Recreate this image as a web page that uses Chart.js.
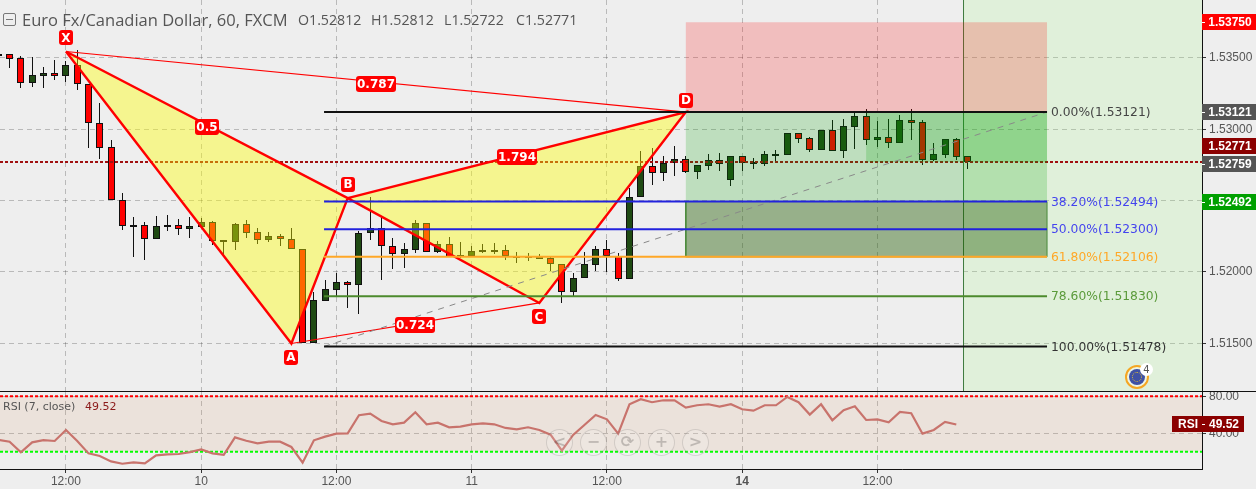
<!DOCTYPE html>
<html>
<head>
<meta charset="utf-8">
<title>EUR/CAD 60</title>
<script src="https://cdn.jsdelivr.net/npm/chart.js@4/dist/chart.umd.min.js"></script>
<style>
  html, body { margin: 0; padding: 0; background: #eeeeee; overflow: hidden; }
  #page { position: relative; width: 1256px; height: 489px; overflow: hidden; }
  #mainWrap { position: absolute; left: 0; top: 0; width: 1256px; height: 391px; border-bottom: 1px solid #111; }
  #rsiWrap { position: absolute; left: 0; top: 392px; width: 1256px; height: 97px; }
  canvas { display: block; }
  .legend { position: absolute; white-space: nowrap; }
  #title { left: 22px; top: 8px; font: 16.5px "Open Sans", sans-serif; color: #555; }
  #ohlc span { position: absolute; top: 10px; font: 14.2px "Open Sans", sans-serif; color: #555; }
  #collapse { position: absolute; left: 3px; top: 13px; width: 11px; height: 11px; border: 1px solid #777; border-radius: 2px; }
  #collapse i { position: absolute; left: 2px; right: 2px; top: 5px; height: 1px; background: #777; }
  #rsiTitle { left: 3px; top: 400px; font: 11px "DejaVu Sans", sans-serif; color: #555; }
  #rsiValue { left: 85px; top: 400px; font: 11px "DejaVu Sans", sans-serif; color: #8b1a1a; }
  .nav { position: absolute; top: 429px; width: 25px; height: 25px; line-height: 25px; text-align: center; border: 1.5px solid rgba(0,0,0,.12);
         border-radius: 50%; background: rgba(255,255,255,.14); color: rgba(0,0,0,.2); font: bold 16px/24px "DejaVu Sans", sans-serif; }
  #flag { position: absolute; left: 1125px; top: 365px; width: 20px; height: 20px; border: 2px solid #f5a623; border-radius: 50%; background: #eef5e4; }
  #flag b { position: absolute; left: 2px; top: 2px; width: 16px; height: 16px; border-radius: 50%; background: #3f51a5; }
  #flag u { position: absolute; left: 5px; top: 5px; width: 8px; height: 8px; border: 1px dotted #d9b93a; border-radius: 50%; }
  #flagCount { position: absolute; left: 1140px; top: 363px; width: 13px; height: 13px; border-radius: 50%; background: #fff; color: #555; text-align: center; font: 10px/13px "DejaVu Sans", sans-serif; }
</style>
</head>
<body>
<div id="page">
  <div id="mainWrap"><canvas id="mainChart" width="1256" height="391"></canvas></div>
  <div id="rsiWrap"><canvas id="rsiChart" width="1256" height="97"></canvas></div>
  <div id="collapse"><i></i></div>
  <div id="title" class="legend">Euro Fx/Canadian Dollar, 60, FXCM</div>
  <div id="ohlc"></div>
  <div id="rsiTitle" class="legend">RSI (7, close)</div>
  <div id="rsiValue" class="legend">49.52</div>
  <div id="flag"><b></b><u></u></div>
  <div id="flagCount">4</div>
</div>
<script>
// first entry is the bar cut off by the left edge, so it sits at index -1
const firstBar = -1;
const opens = [1.53525,1.53528,1.53497,1.53322,1.53376,1.53394,1.53376,1.53448,1.53315,1.53042,1.52874,1.52502,1.52327,1.52327,1.52233,1.52317,1.52327,1.52303,1.52317,1.52348,1.52212,1.52212,1.52334,1.52278,1.52226,1.52250,1.52233,1.52163,1.51504,1.51799,1.51876,1.51928,1.51911,1.52271,1.52306,1.52180,1.52124,1.52157,1.52341,1.52142,1.52194,1.52107,1.52112,1.52140,1.52149,1.52152,1.52110,1.52107,1.52091,1.52100,1.52054,1.51862,1.51956,1.52051,1.52159,1.52114,1.51953,1.52523,1.52743,1.52692,1.52762,1.52790,1.52701,1.52745,1.52785,1.52645,1.52813,1.52759,1.52757,1.52827,1.52820,1.52974,1.52939,1.52855,1.52995,1.52848,1.53018,1.53093,1.52925,1.52946,1.52904,1.53065,1.53049,1.52787,1.52822,1.52930,1.52812];
const highs = [1.53530,1.53528,1.53514,1.53509,1.53439,1.53486,1.53481,1.53556,1.53315,1.53182,1.52925,1.52551,1.52383,1.52348,1.52392,1.52399,1.52371,1.52383,1.52376,1.52357,1.52224,1.52341,1.52364,1.52308,1.52278,1.52266,1.52308,1.52163,1.51858,1.51944,1.51991,1.51937,1.52289,1.52523,1.52387,1.52236,1.52201,1.52364,1.52341,1.52217,1.52247,1.52208,1.52182,1.52194,1.52201,1.52189,1.52138,1.52131,1.52126,1.52112,1.52054,1.51995,1.52138,1.52182,1.52224,1.52135,1.52586,1.52848,1.52867,1.52813,1.52883,1.52813,1.52748,1.52827,1.52834,1.52813,1.52813,1.52797,1.52848,1.52855,1.52974,1.52974,1.52948,1.52995,1.53065,1.53072,1.53114,1.53142,1.53058,1.53072,1.53100,1.53142,1.53065,1.52904,1.52932,1.52939,1.52812];
const lows = [1.53520,1.53432,1.53291,1.53298,1.53291,1.53345,1.53333,1.53277,1.52871,1.52794,1.52502,1.52294,1.52107,1.52084,1.52233,1.52287,1.52259,1.52240,1.52317,1.52189,1.52119,1.52154,1.52240,1.52198,1.52212,1.52184,1.52163,1.51500,1.51504,1.51799,1.51832,1.51750,1.51705,1.52224,1.51944,1.52021,1.52030,1.52135,1.52142,1.52131,1.52107,1.52098,1.52112,1.52131,1.52126,1.52084,1.52065,1.52079,1.52089,1.52007,1.51785,1.51834,1.51956,1.52007,1.52002,1.51939,1.51949,1.52523,1.52610,1.52640,1.52675,1.52692,1.52652,1.52715,1.52708,1.52603,1.52708,1.52722,1.52743,1.52776,1.52820,1.52904,1.52841,1.52855,1.52848,1.52799,1.52862,1.52890,1.52876,1.52869,1.52904,1.52925,1.52750,1.52778,1.52799,1.52785,1.52722];
const closes = [1.53528,1.53495,1.53322,1.53378,1.53394,1.53376,1.53448,1.53315,1.53042,1.52871,1.52502,1.52324,1.52329,1.52233,1.52320,1.52329,1.52303,1.52320,1.52348,1.52219,1.52224,1.52334,1.52275,1.52226,1.52250,1.52233,1.52163,1.51504,1.51801,1.51879,1.51930,1.51911,1.52271,1.52306,1.52180,1.52124,1.52159,1.52341,1.52142,1.52194,1.52107,1.52117,1.52145,1.52152,1.52151,1.52110,1.52111,1.52112,1.52112,1.52054,1.51862,1.51956,1.52054,1.52159,1.52114,1.51953,1.52523,1.52743,1.52692,1.52766,1.52790,1.52703,1.52748,1.52785,1.52759,1.52813,1.52766,1.52769,1.52827,1.52829,1.52974,1.52934,1.52855,1.52995,1.52848,1.53023,1.53093,1.52925,1.52946,1.52906,1.53065,1.53046,1.52787,1.52827,1.52932,1.52808,1.52771];
const rsiValues = [33.0,30.9,19.4,30.2,32.7,31.7,43.6,31.7,18.3,15.4,9.6,7.1,8.5,7.5,16.1,17.2,17.6,19.7,22.6,18.3,16.8,35.6,32.0,29.1,30.9,30.9,25.2,8.2,32.4,36.4,39.6,40.0,59.5,61.3,53.3,49.7,51.5,62.7,49.7,51.5,46.5,47.2,49.7,50.8,49.7,45.8,44.3,46.5,43.6,38.5,21.2,38.2,49.0,59.8,55.1,39.6,71.4,76.8,73.6,75.7,75.7,67.8,70.3,71.4,68.9,71.4,66.0,64.5,70.3,70.3,79.3,73.6,60.2,71.4,54.1,64.9,69.2,54.4,55.1,51.9,63.1,61.7,39.6,43.6,52.3,49.52];

const xTicks = [5,17,29,41,53,65,77];
const xTickLabels = ['12:00','10','12:00','11','12:00','14','12:00'];
const priceTicks = [1.535,1.53,1.525,1.52,1.515];
const rsiTicks = [80,40];

// harmonic pattern points, bar index + price
const patternNames = ['X','A','B','C','D'];
const patternBars = [5,25,30,47,60];
const patternPrices = [1.53545,1.51499,1.52518,1.51783,1.53121];

// fib retracement tool
const fibLabels = ['0.00%(1.53121)','38.20%(1.52494)','50.00%(1.52300)','61.80%(1.52106)','78.60%(1.51830)','100.00%(1.51478)'];
const fibPrices = [1.53121,1.52494,1.52300,1.52106,1.51830,1.51478];
const fibColors = ['#111111','#2222dd','#2222dd','#ffa726','#4c8a2c','#111111'];
const fibTextColors = ['#444444','#4444ee','#4444ee','#ffa726','#5a9a3a','#333333'];
const fibBars = [27.9,92.05];

const stopPrice = 1.5375;
const lastPrice = 1.52771;
const sessionBar = 84.64;
const profitBar = 76;

// price tags on the right axis, 1.52771 is pushed up out of the way of 1.52759
const tagPrices = [1.5375,1.53121,1.52771,1.52759,1.52492];
const tagColors = ['#ff0000','#555555','#8b0000','#555555','#00a000'];
const tagNudge = [0,0,-16,0,0];

const ohlcLabels = ['O1.52812','H1.52812','L1.52722','C1.52771'];
const ohlcLeft = [298,371,444,516];
const navGlyphs = ['<','−','⟳','+','>'];
const navLeft = [546,580,614,648,682];

const xMin = -0.852, xMax = 105.8;
const yMin = 1.51166, yMax = 1.539061;
const rsiMin = 1.4, rsiMax = 84.65;
const AXIS_W = 54;
const GREEN = '#1f4a13', RED = '#ff0000', EDGE = '#111111';
const GRID = 'rgba(0,0,0,0.22)';

ohlcLabels.forEach((t, i) => {
  const s = document.createElement('span');
  s.textContent = t;
  s.style.left = ohlcLeft[i] + 'px';
  document.getElementById('ohlc').appendChild(s);
});
navGlyphs.forEach((t, i) => {
  const d = document.createElement('div');
  d.className = 'nav';
  d.textContent = t;
  d.style.left = navLeft[i] + 'px';
  document.getElementById('page').appendChild(d);
});

const pt = (i) => ({ x: patternBars[i], y: patternPrices[i] });
const rect = (x1, x2, y1, y2) => [{x:x1,y:y1},{x:x2,y:y1},{x:x2,y:y2},{x:x1,y:y2},{x:x1,y:y1}];

function shape(data, color, border, width) {
  return { type: 'line', data, fill: 'shape', backgroundColor: color, borderColor: border || 'transparent', borderWidth: width || 1, pointRadius: 0, tension: 0 };
}
function line(data, color, width, dash) {
  return { type: 'line', data, fill: false, borderColor: color, borderWidth: width, borderDash: dash || [], pointRadius: 0, tension: 0 };
}
function ordered(list) {
  // lower order is painted on top, so first in the list ends up at the bottom
  list.forEach((d, i) => { d.order = list.length - i; });
  return list;
}

const wicks = {
  type: 'bar', grouped: false, barThickness: 1, borderWidth: 0, inflateAmount: 0, backgroundColor: EDGE,
  data: opens.map((o, i) => ({ x: i + firstBar, y: [lows[i], highs[i]] }))
};
const bodies = {
  type: 'bar', grouped: false, barThickness: 7, borderWidth: 1, borderSkipped: false, inflateAmount: 0, borderColor: EDGE,
  backgroundColor: opens.map((o, i) => closes[i] < o ? RED : GREEN),
  data: opens.map((o, i) => ({ x: i + firstBar, y: [o, closes[i]] }))
};

const mainDatasets = ordered([
  shape(rect(sessionBar, xMax, yMin, yMax), 'rgba(145,255,110,0.15)'),
  line([{x:sessionBar,y:yMin},{x:sessionBar,y:yMax}], '#3d7a3d', 1),
  wicks,
  bodies,
  line([{x:xMin,y:lastPrice},{x:xMax,y:lastPrice}], '#a01010', 2, [3,2]),
  shape(rect(patternBars[4], fibBars[1], fibPrices[0], stopPrice), 'rgba(255,0,0,0.2)'),
  shape(rect(patternBars[4], fibBars[1], fibPrices[1], fibPrices[0]), 'rgba(0,160,0,0.2)'),
  shape(rect(profitBar, fibBars[1], lastPrice, fibPrices[0]), 'rgba(0,160,0,0.2)'),
  shape(rect(patternBars[4], fibBars[1], fibPrices[3], fibPrices[1]), 'rgba(30,90,0,0.42)', '#4a8a3a', 1),
  shape([pt(0), pt(1), pt(2), pt(0)], 'rgba(255,255,0,0.4)', '#ff0000', 2.4),
  shape([pt(2), pt(3), pt(4), pt(2)], 'rgba(255,255,0,0.4)', '#ff0000', 2.4),
  line([pt(0), pt(4)], '#ff0000', 1.2),
  line([pt(1), pt(3)], '#ff0000', 1.2),
  line([{x:fibBars[0],y:fibPrices[5]},{x:fibBars[1],y:fibPrices[0]}], '#888888', 1, [6,6]),
  ...fibPrices.map((p, i) => line([{x:fibBars[0],y:p},{x:fibBars[1],y:p}], fibColors[i], 2))
]);

const rsiDatasets = ordered([
  shape(rect(xMin, xMax, 20, 80), 'rgba(215,130,60,0.1)'),
  line([{x:xMin,y:80},{x:xMax,y:80}], '#ff0000', 2, [3,2]),
  line([{x:xMin,y:20},{x:xMax,y:20}], '#00ff00', 2, [3,2]),
  line(rsiValues.map((v, i) => ({ x: i + firstBar, y: v })), '#c8736c', 2.2)
]);

// keep candles on whole pixels, otherwise every body edge comes out blurry
const snapBars = {
  id: 'snapBars',
  afterDatasetsUpdate(chart) {
    chart.data.datasets.forEach((d, n) => {
      if (d.type !== 'bar') return;
      chart.getDatasetMeta(n).data.forEach(el => {
        el.x = Math.floor(el.x) + 0.5;
        el.y = Math.round(el.y);
        el.base = Math.round(el.base);
        if (d.barThickness > 1 && Math.abs(el.y - el.base) < 2) el.base = el.y + 2;
      });
    });
  }
};

function badge(ctx, cx, cy, text, w, h) {
  ctx.fillStyle = '#ff0000';
  ctx.beginPath();
  ctx.roundRect(Math.round(cx - w / 2), Math.round(cy - h / 2), w, h, 3);
  ctx.fill();
  ctx.fillStyle = '#ffffff';
  ctx.font = 'bold 12px "DejaVu Sans", sans-serif';
  ctx.textAlign = 'center';
  ctx.textBaseline = 'middle';
  ctx.fillText(text, Math.round(cx), Math.round(cy) + 1);
}

function tag(ctx, left, top, w, h, color, text) {
  ctx.fillStyle = color;
  ctx.fillRect(left, top, w, h);
  ctx.fillStyle = '#ffffff';
  ctx.font = 'bold 12px "Liberation Sans", Arial, sans-serif';
  ctx.textAlign = 'center';
  ctx.textBaseline = 'middle';
  ctx.fillText(text, left + w / 2 + 1, top + h / 2 + 1);
}

const mainOverlay = {
  id: 'mainOverlay',
  afterDatasetsDraw(chart) {
    const { ctx, scales: { x, y } } = chart;
    ctx.save();
    ctx.font = '12.3px "DejaVu Sans", sans-serif';
    ctx.textAlign = 'left';
    ctx.textBaseline = 'middle';
    fibLabels.forEach((t, i) => {
      ctx.fillStyle = fibTextColors[i];
      ctx.fillText(t, x.getPixelForValue(fibBars[1]) + 4, y.getPixelForValue(fibPrices[i]) + 1);
    });
    // letter badges sit off the pattern points, ratio badges on the middle of their leg
    const px = patternBars.map(b => x.getPixelForValue(b));
    const py = patternPrices.map(p => y.getPixelForValue(p));
    [-14, 14, -14, 14, -12].forEach((off, i) => badge(ctx, px[i], py[i] + off, patternNames[i], 14, 15));
    const mid = (a, b, t, w) => badge(ctx, (px[a] + px[b]) / 2, (py[a] + py[b]) / 2 + 2, t, w, 16);
    mid(0, 2, '0.5', 24);
    mid(0, 4, '0.787', 40);
    mid(2, 4, '1.794', 40);
    mid(1, 3, '0.724', 40);
    const left = chart.chartArea.right;
    tagPrices.forEach((p, i) => {
      const cy = Math.round(y.getPixelForValue(p)) + tagNudge[i];
      tag(ctx, left, cy - 8, AXIS_W, 16, tagColors[i], p.toFixed(5));
      if (!tagNudge[i]) {
        ctx.fillStyle = '#ffffff';
        ctx.fillRect(left, cy, 3, 1);
      }
    });
    ctx.restore();
  }
};

const rsiOverlay = {
  id: 'rsiOverlay',
  afterDatasetsDraw(chart) {
    const { ctx, scales: { y } } = chart;
    const last = rsiValues[rsiValues.length - 1];
    const cy = Math.round(y.getPixelForValue(last));
    const right = chart.chartArea.right;
    ctx.save();
    tag(ctx, right - 30, cy - 8, 30, 16, '#8b0000', 'RSI');
    tag(ctx, right, cy - 8, 42, 16, '#8b0000', last.toFixed(2));
    ctx.fillStyle = '#ffffff';
    ctx.fillRect(right, cy, 3, 1);
    ctx.restore();
  }
};

function xAxis(showLabels) {
  return {
    type: 'linear', min: xMin, max: xMax, offset: false,
    afterBuildTicks: s => { s.ticks = xTicks.map(v => ({ value: v })); },
    afterFit: s => { s.height = showLabels ? 20 : 0; s.paddingLeft = 0; s.paddingRight = 0; },
    border: { display: showLabels, color: '#111', dash: [5,4] },
    grid: { offset: false, color: GRID, drawTicks: showLabels, tickLength: 4, tickColor: '#333', tickBorderDash: [] },
    ticks: {
      display: showLabels, autoSkip: false, maxRotation: 0, padding: 1, color: '#555',
      font: (c) => ({ family: '"Liberation Sans", Arial, sans-serif', size: 12, weight: xTickLabels[c.index] === '14' ? 'bold' : 'normal' }),
      callback: (v) => xTickLabels[xTicks.indexOf(v)]
    }
  };
}
function yAxis(min, max, tickList, digits) {
  return {
    type: 'linear', position: 'right', min, max,
    afterBuildTicks: s => { s.ticks = tickList.map(v => ({ value: v })); },
    // chart.js reserves half a label above and below, the panes here run edge to edge
    afterFit: s => { s.width = AXIS_W; s.paddingTop = 0; s.paddingBottom = 0; },
    border: { color: '#111', dash: [5,4] },
    grid: { color: GRID, tickLength: 4, tickColor: '#333', tickBorderDash: [] },
    ticks: {
      autoSkip: false, padding: 3, color: '#555',
      font: { family: '"Liberation Sans", Arial, sans-serif', size: 12 },
      callback: (v) => v.toFixed(digits)
    }
  };
}

const common = {
  responsive: false,
  animation: false,
  events: [],
  layout: { padding: 0 },
  plugins: { legend: { display: false }, tooltip: { enabled: false } }
};

new Chart(document.getElementById('mainChart'), {
  type: 'line',
  data: { datasets: mainDatasets },
  options: { ...common, scales: { x: xAxis(false), y: yAxis(yMin, yMax, priceTicks, 5) } },
  plugins: [snapBars, mainOverlay]
});

new Chart(document.getElementById('rsiChart'), {
  type: 'line',
  data: { datasets: rsiDatasets },
  options: { ...common, scales: { x: xAxis(true), y: yAxis(rsiMin, rsiMax, rsiTicks, 2) } },
  plugins: [rsiOverlay]
});
</script>
</body>
</html>
